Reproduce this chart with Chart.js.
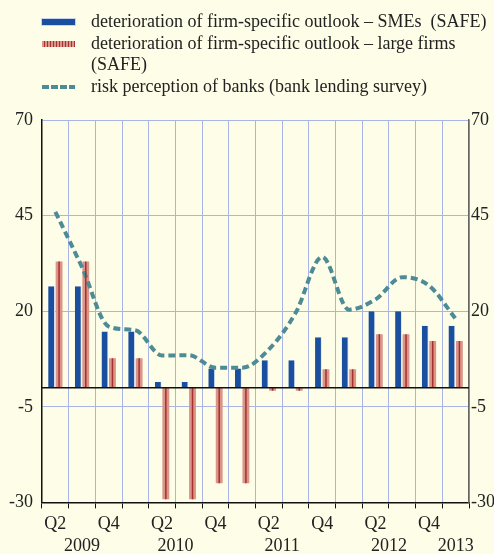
<!DOCTYPE html>
<html>
<head>
<meta charset="utf-8">
<script src="https://cdn.jsdelivr.net/npm/chart.js@4/dist/chart.umd.min.js"></script>
<style>
  body { margin: 0; background: #fefde7; }
  #wrap { position: relative; width: 494px; height: 554px; background: #fefde7; }
  #chart { position: absolute; left: 0; top: 0; }
  /* legend is plain HTML so the second entry can wrap like the original */
  .legend { position: absolute; left: 0; top: 11px; font-family: "Liberation Serif", serif;
            font-size: 18px; color: #222; line-height: 21.7px; }
  .legend-row { position: relative; padding-left: 91px; }
  .swatch { position: absolute; left: 42px; top: 8px; width: 33px; height: 6px; }
  .sw-sme { background: #1a4fa0; box-shadow: 0 0 0 1px #c9d4ee; }
  .sw-large { background: repeating-linear-gradient(90deg, #d9958a 0 2px, #a8302a 2px 3px); }
  .sw-bank { height: 4px; top: 9px; background: repeating-linear-gradient(90deg, #4d8b97 0 7px, transparent 7px 9px); }
</style>
</head>
<body>
<div id="wrap">
  <canvas id="chart" width="494" height="554"></canvas>
  <div class="legend">
    <div class="legend-row"><span class="swatch sw-sme"></span>deterioration of firm-specific outlook – SMEs&nbsp; (SAFE)</div>
    <div class="legend-row"><span class="swatch sw-large"></span>deterioration of firm-specific outlook – large firms<br>(SAFE)</div>
    <div class="legend-row"><span class="swatch sw-bank"></span>risk perception of banks (bank lending survey)</div>
  </div>
</div>
<script>
// --- data (2009 Q2 .. 2013 Q1) ---
const quarters = ['Q2', 'Q3', 'Q4', 'Q1', 'Q2', 'Q3', 'Q4', 'Q1', 'Q2', 'Q3', 'Q4', 'Q1', 'Q2', 'Q3', 'Q4', 'Q1'];
const smeOutlook = [26.5, 26.5, 14.7, 14.7, 1.5, 1.5, 5, 5, 7.2, 7.2, 13.2, 13.2, 20, 20, 16.2, 16.2];
const largeOutlook = [33, 33, 7.7, 7.7, -29.2, -29.2, -25, -25, -0.8, -0.8, 4.8, 4.8, 14, 14, 12.2, 12.2];
const bankRisk = [46, 31.5, 16, 15, 8.4, 8.5, 5.2, 5.2, 10, 19.5, 34.2, 20.4, 23.1, 28.9, 26.7, 18];
const yTicks = [70, 45, 20, -5, -30];
const years = ['2009', '2010', '2011', '2012', '2013'];
const yearFirst = [0, 3, 7, 11, 15];
const yearLast = [2, 6, 10, 14, 15];

const colors = {
  sme: '#1a4fa0',
  large: '#d9958a',
  largeStripe: '#a8302a',
  bank: '#4d8b97',
  grid: '#a9b5e6',
  text: '#222',
};
const font = { family: 'Liberation Serif', size: 18 };

// dark stripe down the middle of each large-firm bar, plus the zero line
const overlayPlugin = {
  id: 'overlay',
  afterDatasetsDraw(chart) {
    const ctx = chart.ctx;
    const meta = chart.getDatasetMeta(1);
    ctx.save();
    ctx.strokeStyle = colors.largeStripe;
    ctx.lineWidth = 1.5;
    meta.data.forEach((bar) => {
      ctx.beginPath();
      ctx.moveTo(bar.x, bar.y);
      ctx.lineTo(bar.x, bar.base);
      ctx.stroke();
    });
    const y0 = chart.scales.y.getPixelForValue(0);
    ctx.strokeStyle = '#111';
    ctx.lineWidth = 1.5;
    ctx.beginPath();
    ctx.moveTo(chart.chartArea.left, y0);
    ctx.lineTo(chart.chartArea.right, y0);
    ctx.stroke();
    ctx.restore();
  },
  afterDraw(chart) {
    // year labels centred under their quarters
    const ctx = chart.ctx;
    const x = chart.scales.x;
    ctx.save();
    ctx.font = font.size + 'px ' + font.family;
    ctx.fillStyle = colors.text;
    ctx.textAlign = 'center';
    ctx.textBaseline = 'middle';
    years.forEach((yr, i) => {
      const cx = (x.getPixelForValue(yearFirst[i]) + x.getPixelForValue(yearLast[i])) / 2;
      ctx.fillText(yr, cx, 546);
    });
    ctx.restore();
  },
};

new Chart(document.getElementById('chart'), {
  type: 'bar',
  data: {
    labels: quarters,
    datasets: [
      {
        label: 'deterioration of firm-specific outlook – SMEs (SAFE)',
        data: smeOutlook,
        backgroundColor: colors.sme,
        borderColor: '#dfe5f5',
        borderWidth: { right: 1 },
        borderSkipped: false,
        categoryPercentage: 0.56,
        barPercentage: 0.92,
        order: 2,
      },
      {
        label: 'deterioration of firm-specific outlook – large firms (SAFE)',
        data: largeOutlook,
        backgroundColor: colors.large,
        categoryPercentage: 0.56,
        barPercentage: 0.92,
        order: 2,
      },
      {
        type: 'line',
        label: 'risk perception of banks (bank lending survey)',
        data: bankRisk,
        borderColor: colors.bank,
        borderWidth: 4,
        borderDash: [7, 4],
        cubicInterpolationMode: 'monotone',
        pointRadius: 0,
        fill: false,
        order: 0,
      },
    ],
  },
  options: {
    responsive: false,
    animation: false,
    layout: { padding: { top: 120, left: 0, right: -3, bottom: 14 } },
    plugins: { legend: { display: false }, tooltip: { enabled: false } },
    scales: {
      x: {
        grid: { color: colors.grid, tickColor: '#111', tickLength: 6, offset: true },
        border: { color: '#111', width: 1.5 },
        ticks: {
          color: colors.text, font, padding: 5, autoSkip: false, maxRotation: 0,
          callback: (v, i) => (quarters[i] === 'Q2' || quarters[i] === 'Q4') ? quarters[i] : '',
        },
      },
      y: {
        position: 'left',
        min: -30, max: 70,
        afterBuildTicks: (s) => { s.ticks = yTicks.map((v) => ({ value: v })); },
        grid: { color: colors.grid, drawTicks: false },
        border: { color: '#111', width: 1.5 },
        ticks: { color: colors.text, font, padding: 9 },
      },
      y2: {
        position: 'right',
        min: -30, max: 70,
        afterBuildTicks: (s) => { s.ticks = yTicks.map((v) => ({ value: v })); },
        grid: { display: false, drawTicks: false },
        border: { color: '#666', width: 1.5 },
        ticks: { color: colors.text, font, padding: 2 },
      },
    },
  },
  plugins: [overlayPlugin],
});
</script>
</body>
</html>
